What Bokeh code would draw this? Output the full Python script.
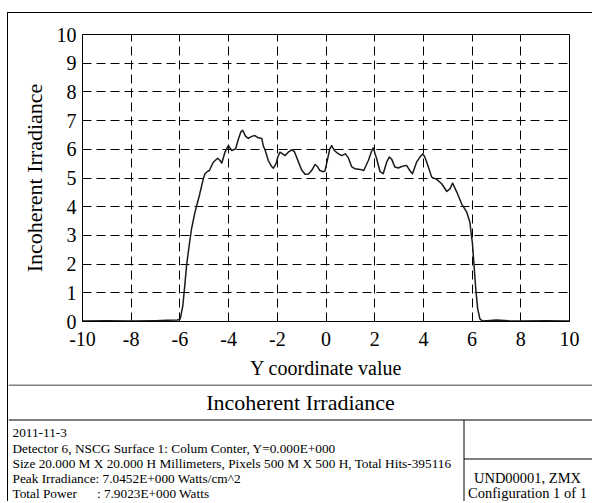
from bokeh.plotting import figure
from bokeh.models import Range1d, FixedTicker
from bokeh.layouts import column
from bokeh.embed import file_html
from bokeh.resources import INLINE
from bokeh.core.properties import value

# ---------------- data ----------------
y_coord = [-10.0, -9.0, -8.0, -7.0, -6.5, -6.1, -6.0, -5.97, -5.88, -5.80, -5.72,
           -5.61, -5.52, -5.38, -5.20, -5.04, -4.97, -4.88, -4.79, -4.63, -4.45,
           -4.36, -4.28, -4.15, -4.01, -3.87, -3.71, -3.60, -3.49, -3.42, -3.30,
           -3.19, -3.05, -2.92, -2.78, -2.64, -2.57, -2.51, -2.37, -2.25, -2.16,
           -2.05, -1.98, -1.89, -1.80, -1.68, -1.55, -1.41, -1.30, -1.14, -1.00,
           -0.86, -0.72, -0.60, -0.45, -0.35, -0.25, -0.10, -0.04, 0.05, 0.15,
           0.23, 0.35, 0.50, 0.64, 0.80, 0.92, 1.05, 1.20, 1.40, 1.55, 1.74,
           1.88, 1.94, 2.08, 2.22, 2.35, 2.49, 2.60, 2.70, 2.83, 2.97, 3.11,
           3.31, 3.45, 3.55, 3.72, 3.85, 3.97, 4.05, 4.18, 4.34, 4.55, 4.75,
           4.96, 5.09, 5.20, 5.37, 5.57, 5.78, 5.91, 5.97, 6.01, 6.08, 6.15,
           6.23, 6.32, 6.42, 6.6, 7.0, 7.5, 8.0, 9.0, 10.0]
irradiance = [0.02, 0.03, 0.02, 0.03, 0.04, 0.05, 0.08, 0.15, 0.55, 1.25, 2.00,
              2.70, 3.24, 3.81, 4.39, 4.97, 5.15, 5.22, 5.26, 5.55, 5.69,
              5.62, 5.52, 5.90, 6.13, 5.96, 6.02, 6.35, 6.62, 6.66, 6.45,
              6.38, 6.45, 6.48, 6.40, 6.38, 6.10, 6.00, 5.61, 5.42, 5.34,
              5.50, 5.73, 5.90, 5.85, 5.78, 5.90, 5.98, 5.92, 5.58, 5.28,
              5.13, 5.14, 5.25, 5.47, 5.40, 5.26, 5.22, 5.25, 5.60, 6.00,
              6.13, 5.95, 5.85, 5.78, 5.84, 5.70, 5.40, 5.32, 5.30, 5.26, 5.61,
              5.95, 6.05, 5.67, 5.22, 5.15, 5.55, 5.73, 5.65, 5.38, 5.35, 5.40,
              5.44, 5.25, 5.15, 5.55, 5.72, 5.84, 5.75, 5.44, 5.03, 4.95, 4.80,
              4.53, 4.62, 4.82, 4.51, 4.10, 3.81, 3.46, 3.00, 2.76, 1.95, 1.14,
              0.44, 0.09, 0.02, 0.03, 0.05, 0.03, 0.02, 0.03, 0.02]

x_ticks = [-10, -8, -6, -4, -2, 0, 2, 4, 6, 8, 10]
x_tick_labels = ["-10", "-8", "-6", "-4", "-2", "0", "2", "4", "6", "8", "10"]
y_ticks = [0, 1, 2, 3, 4, 5, 6, 7, 8, 9, 10]
y_tick_labels = ["0", "1", "2", "3", "4", "5", "6", "7", "8", "9", "10"]

x_label = "Y coordinate value"
y_label = "Incoherent Irradiance"
panel_title = "Incoherent Irradiance"
info_lines = [
    "2011-11-3",
    "Detector 6, NSCG Surface 1: Colum Conter, Y=0.000E+000",
    "Size 20.000 M X 20.000 H Millimeters, Pixels 500 M X 500 H, Total Hits-395116",
    "Peak Irradiance: 7.0452E+000 Watts/cm^2",
    "Total Power\u00a0\u00a0\u00a0\u00a0\u00a0\u00a0: 7.9023E+000 Watts",
]
config_lines = ["UND00001, ZMX", "Configuration 1 of 1"]

FONT = "Liberation Serif"
AXFONT = "'Liberation Serif', 'Times New Roman', serif"
OX, OY = 8, 13          # page position of the layout's content box
W = 584
H1 = 371
H2 = 117

# ---------------- main plot ----------------
p1 = figure(width=W, height=H1, x_range=Range1d(-10, 10), y_range=Range1d(0, 10),
            output_backend="svg", toolbar_location=None, tools="", title=None,
            min_border_left=74, min_border_right=23, min_border_top=21,
            min_border_bottom=63)
p1.frame_align = False
p1.background_fill_color = "white"
p1.border_fill_color = "white"
p1.outline_line_color = "black"
p1.outline_line_width = 1
p1.outline_line_alpha = 1.0

p1.xaxis.ticker = FixedTicker(ticks=x_ticks)
p1.yaxis.ticker = FixedTicker(ticks=y_ticks)
p1.xaxis.major_label_overrides = dict(zip(x_ticks, x_tick_labels))
p1.yaxis.major_label_overrides = dict(zip(y_ticks, y_tick_labels))
p1.xgrid.ticker = p1.xaxis[0].ticker
p1.ygrid.ticker = p1.yaxis[0].ticker

for ax in (p1.xaxis, p1.yaxis):
    ax.axis_line_color = "black"
    ax.major_tick_in = 0
    ax.major_tick_out = 0
    ax.minor_tick_in = 0
    ax.minor_tick_out = 0
    ax.major_label_text_font = AXFONT
    ax.major_label_text_font_size = "20px"
    ax.major_label_text_color = "black"
    ax.axis_label_text_font = AXFONT
    ax.axis_label_text_font_style = "normal"
    ax.axis_label_text_color = "black"

p1.xaxis.axis_label = x_label
p1.yaxis.axis_label = y_label
p1.xaxis.axis_label_text_font_size = "20px"
p1.yaxis.axis_label_text_font_size = "22px"
p1.xaxis.major_label_standoff = 10
p1.yaxis.major_label_standoff = 6
p1.xaxis.axis_label_standoff = 8
p1.yaxis.axis_label_standoff = 7

for g in (p1.xgrid, p1.ygrid):
    g.grid_line_color = "black"
    g.grid_line_dash = "9 5"
    g.grid_line_width = 1
    g.grid_line_alpha = 1.0

p1.line(y_coord, irradiance, line_color="#1a1a1a", line_width=1.5,
        line_join="round")

# ---------------- caption panel (page-pixel coordinates) ----------------
top2 = OY + H1
p2 = figure(width=W, height=H2, x_range=Range1d(OX, OX + W), y_range=Range1d(top2 + H2, top2),
            output_backend="svg", toolbar_location=None, tools="", title=None,
            x_axis_type=None, y_axis_type=None, min_border=0)
p2.frame_align = False
p2.outline_line_color = None
p2.background_fill_color = "white"
p2.border_fill_color = "white"

p2.segment(x0=[OX, OX, 463.5, 463.5], y0=[top2 + 0.5, 419.5, 419.5, 458.5],
           x1=[OX + W, OX + W, 463.5, OX + W], y1=[top2 + 0.5, 419.5, top2 + H2, 458.5],
           line_color="black", line_width=1)

p2.text(x=[300], y=[402], text=[panel_title], text_font=value(FONT),
        text_font_size="22px", text_align="center", text_baseline="middle",
        text_color="black")

p2.text(x=[12] * len(info_lines), y=[432.5, 447.5, 462.5, 477.5, 492.5], text=info_lines,
        text_font=value(FONT), text_font_size="13.3px", text_align="left",
        text_baseline="middle", text_color="black")

p2.text(x=[527, 527], y=[477.5, 492.5], text=config_lines, text_font=value(FONT),
        text_font_size="14.5px", text_align="center", text_baseline="middle",
        text_color="black")

layout = column(p1, p2, spacing=0, margin=(12, 0, 0, 7),
                styles={"border-left": "1px solid black", "border-top": "1px solid black"})
open("out.html", "w").write(file_html(layout, INLINE))
